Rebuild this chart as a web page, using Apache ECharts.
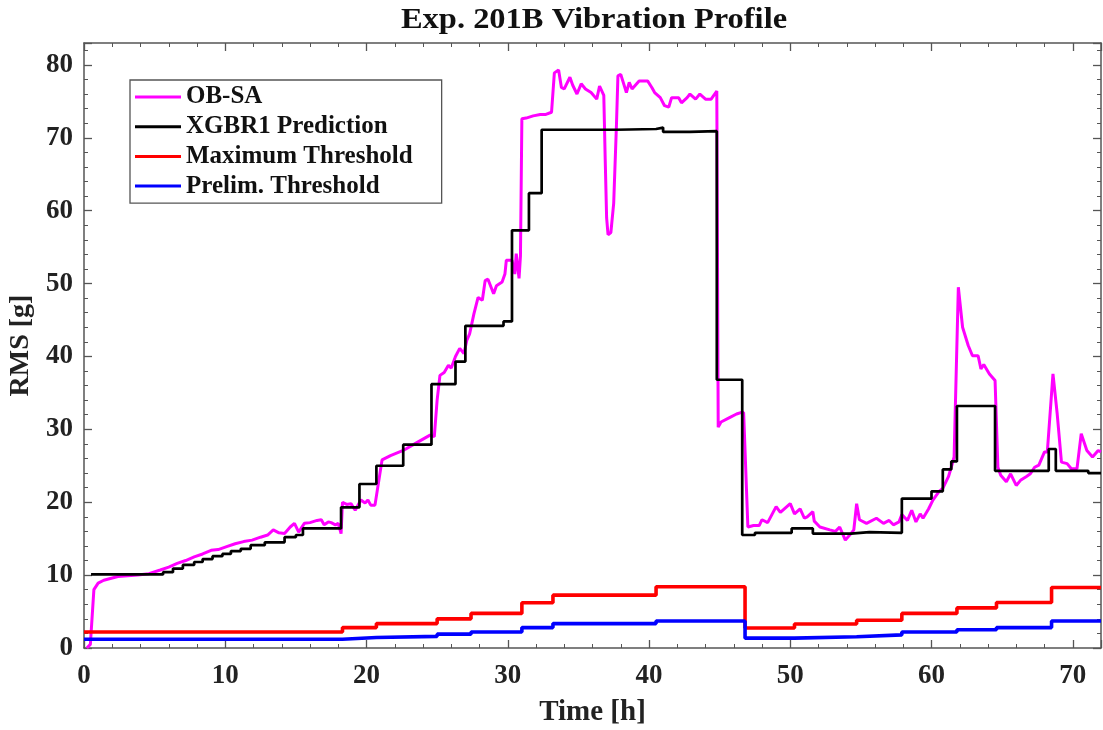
<!DOCTYPE html>
<html>
<head>
<meta charset="utf-8">
<script src="https://cdn.jsdelivr.net/npm/echarts@6/dist/echarts.min.js"></script>
<style>html,body{margin:0;padding:0;background:#fff;}#chart{width:1103px;height:730px;}</style>
</head>
<body>
<div id="chart"></div>
<script>
// ---- Data ----
const obsaTime = [0.2,0.45,0.7,1.0,1.4,2.4,3.8,4.6,5.4,6.0,6.6,7.2,7.8,8.4,9.0,9.5,10.1,10.7,11.3,11.9,12.5,13.0,13.4,13.8,14.2,14.6,14.9,15.2,15.6,16.0,16.5,16.8,17.0,17.3,17.5,17.8,18.0,18.2,18.3,18.6,18.9,19.2,19.6,19.9,20.1,20.3,20.6,20.7,21.1,21.7,22.6,23.5,24.5,24.8,25.0,25.2,25.5,25.8,26.0,26.3,26.6,26.9,27.1,27.3,27.6,27.9,28.2,28.4,28.6,29.0,29.2,29.6,29.8,29.9,30.3,30.5,30.6,30.8,30.9,31.0,31.3,31.8,32.3,32.7,33.1,33.3,33.6,33.8,34.0,34.4,34.6,34.9,35.2,35.5,35.9,36.3,36.5,36.8,36.9,37.0,37.1,37.3,37.5,37.7,37.8,38.0,38.4,38.6,38.8,39.3,39.9,40.2,40.4,40.8,41.1,41.4,41.6,42.1,42.3,42.7,42.9,43.3,43.6,44.0,44.4,44.8,44.9,45.1,45.7,46.2,46.5,46.7,47.0,47.4,47.8,48.0,48.4,49.0,49.3,50.0,50.3,50.7,51.0,51.2,51.6,51.7,52.1,52.8,53.2,53.5,53.9,54.3,54.5,54.7,54.9,55.4,56.1,56.6,57.0,57.3,57.7,57.9,58.3,58.6,58.9,59.2,59.4,59.8,60.1,60.5,60.8,61.2,61.4,61.6,61.9,62.2,62.6,62.9,63.3,63.5,63.7,64.1,64.5,64.7,64.9,65.3,65.6,66.0,66.3,66.7,67.0,67.3,67.6,68.0,68.2,68.6,68.9,69.2,69.6,69.9,70.3,70.6,71.0,71.4,71.8,72.0];
const obsaRms  = [0,0.5,8.0,8.9,9.3,9.8,10.0,10.2,10.7,11.1,11.6,12.0,12.5,12.9,13.4,13.5,13.9,14.3,14.6,14.8,15.2,15.5,16.2,15.8,15.7,16.6,17.1,15.9,17.1,17.2,17.5,17.6,16.9,17.3,17.2,16.9,17.1,15.7,20.0,19.7,19.8,18.9,20.3,19.9,20.3,19.6,19.6,19.8,25.8,26.4,27.1,28.1,29.2,29.0,34.0,37.4,37.8,38.8,38.4,40.0,41.1,40.4,42.2,43.1,45.8,48.1,47.7,50.4,50.6,48.6,49.7,50.2,51.3,53.2,53.2,51.3,54.1,50.7,53.8,72.6,72.7,73.0,73.2,73.2,73.5,78.9,79.3,76.9,76.7,78.3,77.2,76.0,77.4,76.7,76.2,75.3,77.1,75.8,67.0,59.0,56.7,57.0,61.0,72.0,78.5,78.7,76.2,77.6,76.7,77.8,77.8,76.9,76.2,75.5,74.4,74.2,75.5,75.5,74.8,75.5,76.0,75.3,76.0,75.3,75.3,76.4,30.3,31.0,31.6,32.1,32.3,32.3,16.6,16.8,16.8,17.6,17.2,19.4,18.6,19.8,18.4,19.1,17.8,18.0,18.7,17.4,16.6,16.2,16.0,16.6,14.8,15.7,16.2,19.8,17.6,17.1,17.8,17.1,17.5,16.9,17.3,18.3,17.5,18.9,17.3,18.4,17.8,19.1,20.3,21.4,21.9,23.5,24.8,26.2,49.5,44.0,41.5,40.1,40.1,38.3,38.9,37.6,36.7,24.8,23.7,22.8,23.9,22.3,23.0,23.5,23.9,24.8,25.1,26.9,26.9,37.6,32.1,25.5,25.3,24.6,24.6,29.4,27.1,26.2,27.1,26.9];

// XGBR1 prediction: value holds from each time until the next one
const predTime = [0.5,5.6,6.3,7.0,7.8,8.4,9.1,9.8,10.4,11.1,11.8,12.8,14.2,15.0,15.5,18.2,19.5,20.7,22.6,24.6,26.3,27.0,29.7,30.3,31.5,32.4,37.7,40.5,41.0,42.9,44.8,46.6,47.5,50.1,51.6,54.3,55.6,57.9,60.0,60.8,61.4,61.8,64.5,68.3,68.8,71.1,72.0];
const predRms  = [10.1,10.4,10.9,11.4,11.8,12.2,12.6,12.9,13.3,13.6,14.1,14.5,15.2,15.5,16.4,19.3,22.5,25.0,27.9,36.2,39.3,44.2,44.8,57.3,62.4,71.1,71.2,71.4,70.8,70.9,36.8,15.5,15.8,16.4,15.7,15.9,15.8,20.5,21.5,24.5,25.6,33.2,24.3,27.3,24.3,24.0,24.0];

// thresholds: level holds from each time until the next one
const threshTime   = [0,18.3,20.7,25.0,27.4,31.0,33.2,40.5,46.8,50.3,54.7,57.9,61.8,64.6,68.5,72];
const maxThreshold = [2.2,2.8,3.35,4.0,4.75,6.2,7.25,8.4,2.75,3.3,3.8,4.75,5.5,6.25,8.3,8.3];
const prelimThreshold = [1.2,1.45,1.6,1.9,2.2,2.8,3.35,3.7,1.35,1.55,1.8,2.2,2.5,2.8,3.7,3.7];

const seriesNames = ['OB-SA','XGBR1 Prediction','Maximum Threshold','Prelim. Threshold'];
const seriesColors = ['#ff00ff','#000000','#ff0000','#0000ff'];
const titleText = 'Exp. 201B Vibration Profile';

const zip = (a,b) => a.map((v,i) => [v, b[i]]);

const FONT = '"Liberation Serif","Times New Roman",serif';
const AX = '#555555';

function mkX(pos, showLabel){
  return {
    type:'value', position:pos, min:0, max:72, interval:10,
    axisLine:{show:true, onZero:false, lineStyle:{color:AX, width:1.5}},
    axisTick:{show:true, inside:true, length:8, lineStyle:{color:AX, width:1.3}},
    minorTick:{show:true, splitNumber:5, length:4, lineStyle:{color:AX, width:1}},
    splitLine:{show:false},
    axisLabel:{show:showLabel, margin:15, fontFamily:FONT, fontWeight:'bold', fontSize:27, color:'#222', showMaxLabel:false},
    name: showLabel ? 'Time [h]' : '', nameLocation:'middle', nameGap:50,
    nameTextStyle:{fontFamily:FONT, fontWeight:'bold', fontSize:29, color:'#222'}
  };
}
function mkY(pos, showLabel){
  return {
    type:'value', position:pos, min:0, max:83, interval:10,
    axisLine:{show:true, onZero:false, lineStyle:{color:AX, width:1.5}},
    axisTick:{show:true, inside:true, length:8, lineStyle:{color:AX, width:1.3}},
    minorTick:{show:true, splitNumber:5, length:4, lineStyle:{color:AX, width:1}},
    splitLine:{show:false},
    axisLabel:{show:showLabel, margin:11, fontFamily:FONT, fontWeight:'bold', fontSize:27, color:'#222', showMaxLabel:false},
    name: showLabel ? 'RMS [g]' : '', nameLocation:'middle', nameGap:43,
    nameTextStyle:{fontFamily:FONT, fontWeight:'bold', fontSize:28, color:'#222'}
  };
}

const chart = echarts.init(document.getElementById('chart'), null, {renderer:'canvas'});
chart.setOption({
  animation:false,
  backgroundColor:'#fff',
  graphic:[{
    type:'text', x:594, y:6, scaleX:1.12,
    style:{text:titleText, textAlign:'center', textVerticalAlign:'top',
      font:'bold 29px "Liberation Serif","Times New Roman",serif', fill:'#111'}
  }],
  grid:{left:84, right:2, top:43, bottom:82, outerBoundsMode:'none', containLabel:false},
  xAxis:[mkX('bottom', true), mkX('top', false)],
  yAxis:[mkY('left', true), mkY('right', false)],
  legend:{
    orient:'vertical', left:130, top:80,
    padding:[4.5,29,4.5,5],
    itemGap:4.7, itemWidth:46, itemHeight:3,
    icon:'rect',
    borderColor:'#555', borderWidth:1.3, backgroundColor:'#fff',
    textStyle:{fontFamily:FONT, fontWeight:'bold', fontSize:25, color:'#111'},
    data:seriesNames
  },
  series:[
    {name:seriesNames[0], type:'line', data:zip(obsaTime, obsaRms), showSymbol:false, symbol:'none',
     color:seriesColors[0], lineStyle:{color:seriesColors[0], width:3}, z:2},
    {name:seriesNames[1], type:'line', data:zip(predTime, predRms), step:'end', showSymbol:false, symbol:'none',
     color:seriesColors[1], lineStyle:{color:seriesColors[1], width:2.7}, z:3},
    {name:seriesNames[2], type:'line', data:zip(threshTime, maxThreshold), step:'end', showSymbol:false, symbol:'none',
     color:seriesColors[2], lineStyle:{color:seriesColors[2], width:3.6}, z:2},
    {name:seriesNames[3], type:'line', data:zip(threshTime, prelimThreshold), step:'end', showSymbol:false, symbol:'none',
     color:seriesColors[3], lineStyle:{color:seriesColors[3], width:3.6}, z:2}
  ]
});
</script>
</body>
</html>
